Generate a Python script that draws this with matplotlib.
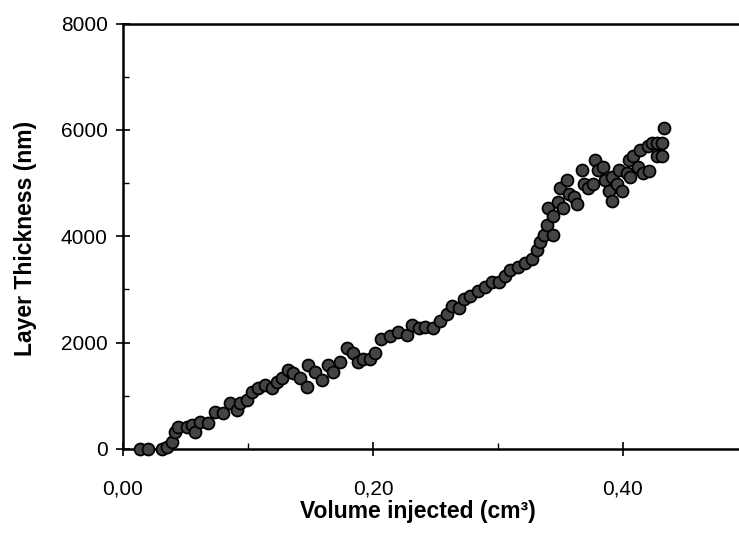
import matplotlib
matplotlib.use("Agg")
import matplotlib.pyplot as plt
from matplotlib.ticker import MultipleLocator, FixedLocator, FuncFormatter

# Data
volume_injected = [
    0.0136, 0.0200, 0.0310, 0.0350, 0.0390, 0.0416, 0.0440, 0.0510, 0.0550, 0.0580,
    0.0620, 0.0680, 0.0740, 0.0800, 0.0856, 0.0910, 0.0940, 0.0990, 0.1030, 0.1080,
    0.1136, 0.1190, 0.1230, 0.1270, 0.1320, 0.1360, 0.1420, 0.1470, 0.1480, 0.1540,
    0.1590, 0.1640, 0.1680, 0.1740, 0.1790, 0.1840, 0.1880, 0.1920, 0.1980, 0.2016,
    0.2065, 0.2136, 0.2200, 0.2270, 0.2310, 0.2370, 0.2420, 0.2480, 0.2540, 0.2590,
    0.2630, 0.2690, 0.2730, 0.2780, 0.2840, 0.2900, 0.2950, 0.3010, 0.3060, 0.3100,
    0.3160, 0.3220, 0.3270, 0.3310, 0.3340, 0.3370, 0.3390, 0.3400, 0.3440, 0.3440,
    0.3480, 0.3500, 0.3520, 0.3550, 0.3570, 0.3610, 0.3630, 0.3670, 0.3690, 0.3720,
    0.3760, 0.3780, 0.3800, 0.3840, 0.3860, 0.3890, 0.3910, 0.3910, 0.3950, 0.3970,
    0.3990, 0.4030, 0.4050, 0.4060, 0.4080, 0.4120, 0.4140, 0.4160, 0.4200, 0.4210,
    0.4230, 0.4270, 0.4270, 0.4310, 0.4310, 0.4330,
]
layer_thickness = [
    0, 0, 0, 30, 130, 320, 410, 410, 450, 320,
    510, 490, 700, 680, 860, 730, 860, 920, 1070, 1140,
    1200, 1140, 1260, 1330, 1480, 1420, 1330, 1170, 1580, 1450,
    1290, 1580, 1450, 1640, 1900, 1800, 1640, 1700, 1700, 1800,
    2060, 2120, 2200, 2150, 2330, 2270, 2300, 2270, 2400, 2530,
    2690, 2660, 2820, 2880, 2980, 3040, 3140, 3140, 3260, 3360,
    3420, 3490, 3580, 3740, 3900, 4030, 4220, 4540, 4030, 4380,
    4640, 4900, 4540, 5060, 4800, 4740, 4610, 5250, 4990, 4900,
    4990, 5440, 5250, 5310, 5060, 4860, 4670, 5120, 4990, 5250,
    4860, 5180, 5440, 5120, 5500, 5310, 5630, 5180, 5700, 5220,
    5760, 5500, 5760, 5760, 5500, 6030,
]

x_major = [0.0, 0.2, 0.4]
x_minor = [0.1, 0.3]
x_labels = ["0,00", "0,20", "0,40"]
y_major = [0, 2000, 4000, 6000, 8000]

plt.rcParams["font.family"] = ["Liberation Sans", "DejaVu Sans"]

fig = plt.figure(figsize=(7.39, 5.33), dpi=100)
ax = fig.add_axes([0.1664, 0.1576, 0.8457, 0.7983])

ax.plot(volume_injected, layer_thickness, ls="none", marker="o",
        markersize=8.6, markerfacecolor="#444444", markeredgecolor="black",
        markeredgewidth=1.3, clip_on=False, zorder=3)

ax.set_xlim(0, 0.5)
ax.set_ylim(0, 8000)

ax.xaxis.set_major_locator(FixedLocator(x_major))
ax.xaxis.set_minor_locator(FixedLocator(x_minor))
ax.set_xticklabels(x_labels)
ax.yaxis.set_major_locator(FixedLocator(y_major))
ax.yaxis.set_minor_locator(MultipleLocator(1000))
ax.yaxis.set_major_formatter(FuncFormatter(lambda v, p: f"{int(v)}"))

for s in ["left", "bottom", "top"]:
    ax.spines[s].set_linewidth(1.8)
ax.spines["right"].set_visible(False)

ax.tick_params(axis="both", which="major", direction="inout", length=10,
               width=1.2, labelsize=15, color="black")
ax.tick_params(axis="y", which="major", pad=6)
ax.tick_params(axis="x", which="major", pad=17)
ax.tick_params(axis="both", which="minor", direction="in", length=4.5, width=1.0)

fig.text(0.566, 0.028, "Volume injected (cm³)", ha="center", va="baseline",
         fontsize=16.5, fontweight="bold")
fig.text(0.035, 0.5535, "Layer Thickness (nm)", ha="center", va="center",
         rotation=90, fontsize=16.5, fontweight="bold")

fig.savefig("out.png", dpi=100)
